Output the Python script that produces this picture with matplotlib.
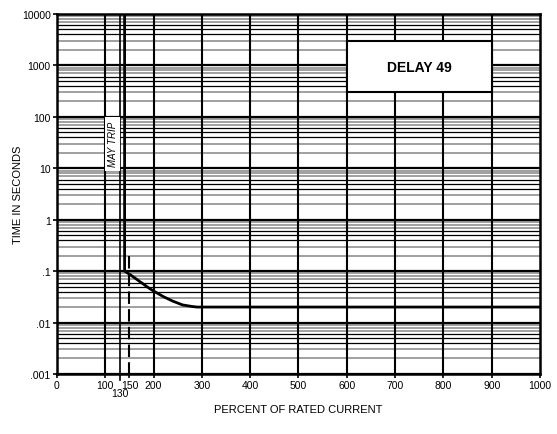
import numpy as np
import matplotlib
matplotlib.use("Agg")
import matplotlib.pyplot as plt
from matplotlib.patches import Rectangle

plt.rcParams['font.family'] = ['Liberation Sans', 'DejaVu Sans']

# Trip curve: vertical at 140 % down to 0.1 s, then inverse-time down to 0.02 s
trip_current = [140, 140, 150, 160, 170, 180, 190, 200, 220, 240, 260, 280, 290, 1000]
trip_time = [10000, 0.1, 0.087, 0.075, 0.064, 0.055, 0.047, 0.041, 0.032, 0.026,
             0.022, 0.0205, 0.02, 0.02]

x_ticks = [0, 100, 150, 200, 300, 400, 500, 600, 700, 800, 900, 1000]
y_ticks = [0.001, 0.01, 0.1, 1, 10, 100, 1000, 10000]
y_labels = ['.001', '.01', '.1', '1', '10', '100', '1000', '10000']
decades = [0.001, 0.01, 0.1, 1, 10, 100, 1000]
gray_minor = [2, 3, 7, 8, 9]
black_minor = [4, 5, 6]

may_trip_current = 130
pickup_current = 150

fig = plt.figure(figsize=(5.57, 4.35), dpi=100)
ax = fig.add_axes([0.1023, 0.138, 0.8672, 0.8276])
ax.set_xlim(0, 1000)
ax.set_yscale('log')
ax.set_ylim(0.001, 10000)

# log grid: decades heavy, minor lines mixed grey/black
for d in decades:
    ax.axhline(d, color='black', lw=1.6, zorder=1)
    for m in gray_minor:
        ax.axhline(d * m, color='#999999', lw=1.3, zorder=1)
    for m in black_minor:
        ax.axhline(d * m, color='black', lw=0.9, zorder=1)

for xv in range(100, 1000, 100):
    ax.axvline(xv, color='black', lw=1.5, zorder=2)
ax.axvline(may_trip_current, color='black', lw=1.2, zorder=2)

# label boxes
ax.add_patch(Rectangle((100, 9), 30, 91, facecolor='white', edgecolor='none', zorder=3))
ax.text(116, 30, 'MAY TRIP', rotation=90, style='italic', fontsize=7,
        ha='center', va='center', zorder=4)
ax.add_patch(Rectangle((600, 300), 300, 2700, facecolor='white', edgecolor='black',
                       lw=1.5, zorder=3))
ax.text(750, 930, 'DELAY 49', fontsize=10, fontweight='bold', ha='center', va='center',
        zorder=4)

ax.plot(trip_current, trip_time, color='black', lw=2, zorder=5)
ax.plot([pickup_current, pickup_current], [0.2, 0.001], color='black', lw=1.5,
        dashes=(6, 2.5), zorder=5)

ax.set_xticks(x_ticks)
ax.set_xticklabels([str(v) for v in x_ticks], fontsize=7.5)
ax.set_yticks(y_ticks)
ax.set_yticklabels(y_labels, fontsize=7.5)
ax.minorticks_off()
ax.tick_params(axis='both', length=3, width=1.2, pad=1.5)
ax.text(130, 0.00042, '130', fontsize=7.5, ha='center', va='center')
ax.plot([130, 130], [0.001, 0.00075], color='black', lw=1.2, clip_on=False)

for s in ax.spines.values():
    s.set_linewidth(1.8)
    s.set_zorder(6)

ax.set_xlabel('PERCENT OF RATED CURRENT', fontsize=8, labelpad=10)
ax.set_ylabel('TIME IN SECONDS', fontsize=8)
ax.yaxis.set_label_coords(-0.07, 0.5)

fig.savefig('out.png', dpi=100)
